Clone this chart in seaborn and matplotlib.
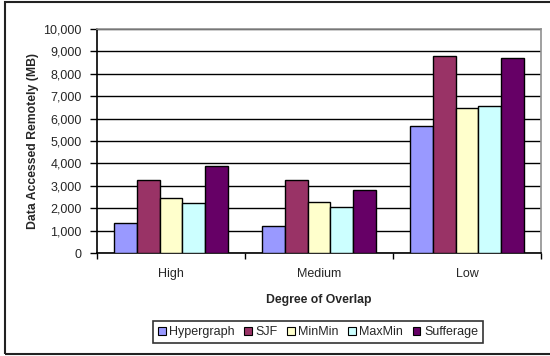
import matplotlib
matplotlib.use("Agg")
import matplotlib.pyplot as plt
import matplotlib.patches as mpatches
from matplotlib.ticker import FuncFormatter, FixedLocator
import seaborn as sns
import pandas as pd

# Remote data volume per scheduling heuristic, by degree of overlap
categories = ["High", "Medium", "Low"]
methods = ["Hypergraph", "SJF", "MinMin", "MaxMin", "Sufferage"]
hypergraph = [1330, 1190, 5660]
sjf = [3260, 3260, 8810]
minmin = [2460, 2280, 6460]
maxmin = [2220, 2070, 6550]
sufferage = [3880, 2800, 8710]
colors = ["#9999FF", "#993366", "#FFFFCC", "#CCFFFF", "#660066"]

series = [hypergraph, sjf, minmin, maxmin, sufferage]
rows = []
for m, vals in zip(methods, series):
    for c, v in zip(categories, vals):
        rows.append({"Overlap": c, "Method": m, "MB": v})
df = pd.DataFrame(rows)

sns.set_theme(style="white")
plt.rcParams["font.family"] = ["Liberation Sans", "DejaVu Sans"]

fig = plt.figure(figsize=(5.5, 3.56), dpi=100)
ax = fig.add_axes([97 / 550, 1 - 253 / 356, (541 - 97) / 550, (253 - 29) / 356])

sns.barplot(data=df, x="Overlap", y="MB", hue="Method", order=categories,
            hue_order=methods, palette=colors, width=0.77, gap=0,
            edgecolor="black", linewidth=1.0, saturation=1, ax=ax,
            legend=False, zorder=3)

ax.set_ylim(0, 10000)
ax.set_xlim(-0.5, 2.5)
ax.set_yticks(range(0, 10001, 1000))
ax.yaxis.set_major_formatter(FuncFormatter(lambda v, p: f"{int(v):,}"))
ax.yaxis.grid(True, color="black", linewidth=1.0, zorder=0)
ax.set_axisbelow(True)

# category boundaries carry tick marks, labels sit at the centres
ax.xaxis.set_major_locator(FixedLocator([-0.5, 0.5, 1.5, 2.5]))
ax.xaxis.set_major_formatter(FuncFormatter(lambda v, p: ""))
ax.xaxis.set_minor_locator(FixedLocator([0, 1, 2]))
ax.set_xticklabels(categories, minor=True)
ax.tick_params(axis="x", which="major", direction="out", length=4,
               width=1, color="black", bottom=True)
ax.tick_params(axis="x", which="minor", length=0, labelsize=9, pad=11)
ax.tick_params(axis="y", direction="out", length=5, width=1, color="black",
               left=True, labelsize=9, pad=6)

for side in ["left", "bottom"]:
    ax.spines[side].set_color("black")
    ax.spines[side].set_linewidth(1.2)
for side in ["top", "right"]:
    ax.spines[side].set_color("#909090")
    ax.spines[side].set_linewidth(1.2)

ax.set_xlabel("Degree of Overlap", fontsize=8.8, fontweight="bold", labelpad=10)
ax.set_ylabel("Data Accessed Remotely (MB)", fontsize=8.8, fontweight="bold",
              labelpad=3)

handles = [mpatches.Patch(facecolor=c, edgecolor="black", linewidth=0.8, label=m)
           for m, c in zip(methods, colors)]
leg = fig.legend(handles=handles, loc="center", bbox_to_anchor=(318 / 550, 1 - 332 / 356),
                 ncol=5, fontsize=9, frameon=True, fancybox=False,
                 handlelength=0.6, handleheight=0.6, handletextpad=0.3,
                 columnspacing=0.75, borderpad=0.4, borderaxespad=0)
leg.get_frame().set_edgecolor("black")
leg.get_frame().set_linewidth(1.2)

# outer chart frame
frame = mpatches.Rectangle((5 / 550, 2 / 356), 1.2, 352 / 356, transform=fig.transFigure,
                           fill=False, edgecolor="#222222", linewidth=1.5,
                           clip_on=False)
fig.patches.append(frame)

fig.savefig("out.png", dpi=100)
